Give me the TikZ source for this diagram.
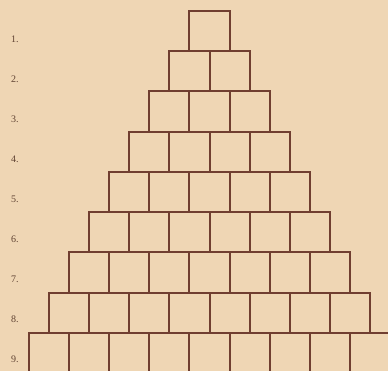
\documentclass[tikz,border=0pt]{standalone}
\usepackage{fontspec}
\setmainfont{Liberation Serif}
\definecolor{paper}{RGB}{239,214,180}
\definecolor{ink}{RGB}{112,62,48}
\definecolor{labelink}{RGB}{95,66,50}
\tikzset{
  brick/.style={draw=ink, line width=2pt, rectangle, inner sep=0pt, anchor=north west,
    minimum width=40.2pt, minimum height=40.25pt},
  rowlabel/.style={text=labelink, anchor=base west, inner sep=0pt,
    font=\fontsize{10}{12}\selectfont}
}
\begin{document}
\begin{tikzpicture}[x=1pt,y=-1pt]
\useasboundingbox (0,0) rectangle (388,371);
\fill[paper] (0,0) rectangle (388,371);
\clip (0,0) rectangle (388,371);
\foreach \k in {1,...,9}{
  \pgfmathsetmacro{\top}{10+40.25*(\k-1)}
  \pgfmathsetmacro{\lft}{208.5-20.1*\k}
  \foreach \i in {1,...,\k}{
    \node[brick] (b-\k-\i) at ({\lft+40.2*(\i-1)},\top) {};
  }
  \node[rowlabel] (l-\k) at (11,{42.5+40*(\k-1)}) {\k.};
}
\end{tikzpicture}
\end{document}
